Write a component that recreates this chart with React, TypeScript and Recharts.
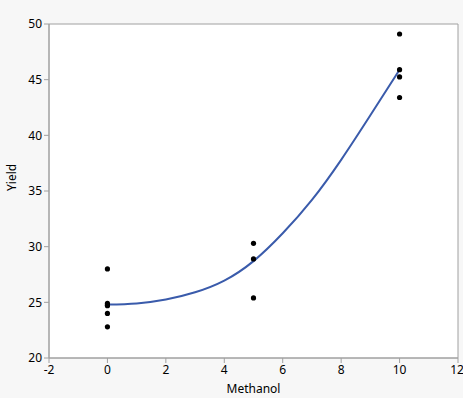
import {
  ComposedChart,
  Scatter,
  Line,
  XAxis,
  YAxis,
  ReferenceArea,
} from "recharts";

// observed points
const methanolObs = [0, 0, 0, 0, 0, 0, 5, 5, 5, 10, 10, 10, 10];
const yieldObs = [28.0, 24.9, 24.75, 24.7, 24.0, 22.8, 30.3, 28.9, 25.4, 49.1, 45.9, 45.25, 43.4];

// fitted curve
const fitX = [0, 1, 2, 3, 4, 5, 6, 7, 8, 9, 10];
const fitY = [24.8, 24.9, 25.25, 25.9, 26.95, 28.7, 31.2, 34.2, 37.8, 41.8, 45.9];

const xTicks = [-2, 0, 2, 4, 6, 8, 10, 12];
const yTicks = [20, 25, 30, 35, 40, 45, 50];

const points = methanolObs.map((x, i) => ({ x, y: yieldObs[i] }));
const fit = fitX.map((x, i) => ({ x, y: fitY[i] }));

const axisColor = "#a0a0a0";
const tickFont = { fill: "#000", fontSize: 12, fontFamily: "Noto Sans" };

const Dot = (props: any) => <circle cx={props.cx} cy={props.cy} r={2.6} fill="#000" />;

export default function App() {
  return (
    <div style={{ position: "fixed", left: 0, top: 0, width: 463, height: 398, background: "#f7f7f7" }}>
      <ComposedChart width={463} height={398} margin={{ top: 24, right: 5, bottom: 0, left: 0 }}>
        <ReferenceArea x1={-2} x2={12} y1={20} y2={50} fill="#fff" fillOpacity={1} stroke={axisColor} />
        <XAxis
          type="number"
          dataKey="x"
          domain={[-2, 12]}
          ticks={xTicks}
          height={40}
          stroke={axisColor}
          tickSize={5}
          tickMargin={2}
          tick={tickFont}
          label={{ value: "Methanol", position: "insideBottom", offset: 5, fill: "#000", fontSize: 12, fontFamily: "Noto Sans" }}
        />
        <YAxis
          type="number"
          dataKey="y"
          domain={[20, 50]}
          ticks={yTicks}
          width={49}
          stroke={axisColor}
          tickSize={5}
          tickMargin={2}
          tick={tickFont}
          label={{ value: "Yield", angle: -90, position: "insideLeft", offset: 12, fill: "#000", fontSize: 12, fontFamily: "Noto Sans" }}
        />
        <Line
          data={fit}
          dataKey="y"
          type="natural"
          stroke="#3a5bab"
          strokeWidth={2}
          dot={false}
          isAnimationActive={false}
        />
        <Scatter data={points} dataKey="y" shape={Dot} isAnimationActive={false} />
      </ComposedChart>
    </div>
  );
}
